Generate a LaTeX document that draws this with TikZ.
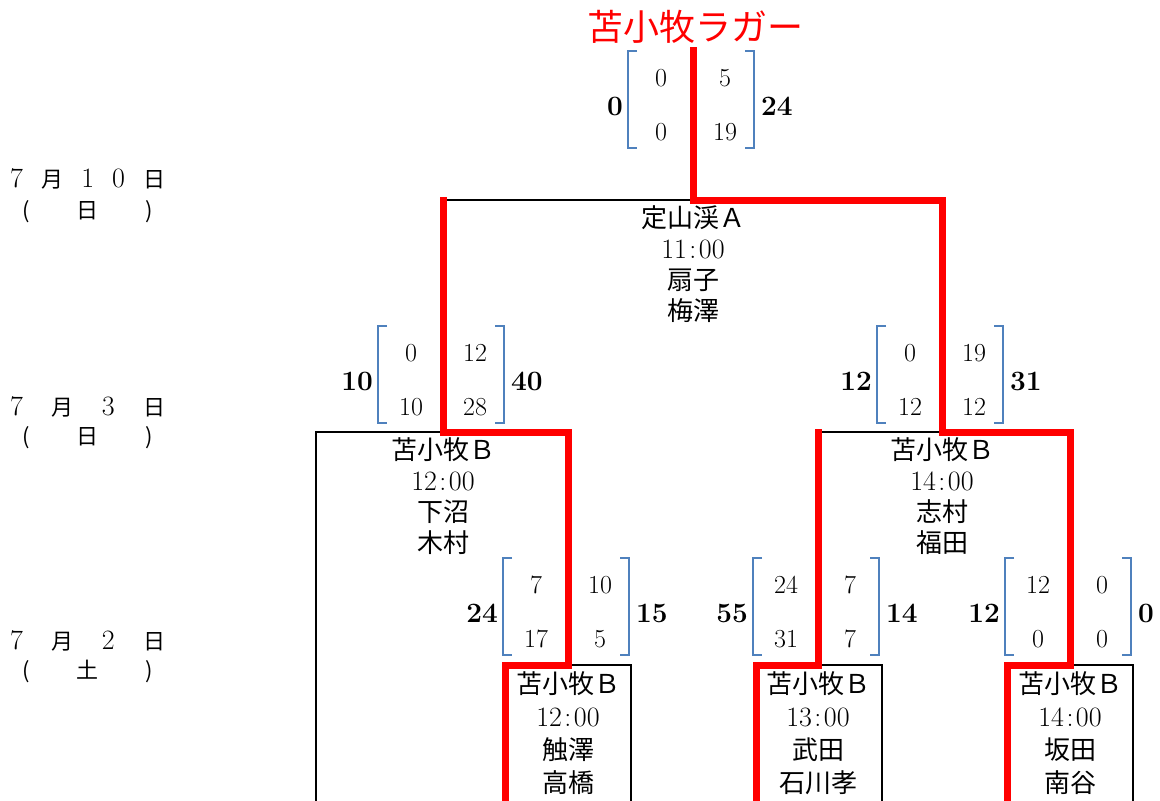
\documentclass[tikz,border=0pt]{standalone}
\usepackage{fontspec}
\newfontfamily\jp{Noto Sans CJK JP}
\usepackage{tikz}
\definecolor{bracket edge}{RGB}{79,129,189}
\colorlet{win line}{red}
\tikzset{winner/.style={draw=win line, line width=7pt, line cap=rect},
    loser/.style={draw=black, line width=2pt},
    bracket/.style={draw=bracket edge, line width=2pt},
    score/.style={inner sep=0pt, font=\fontsize{26}{26}\selectfont},
    total/.style={inner sep=0pt, font=\fontsize{28}{28}\selectfont\bfseries},
    matchinfo/.style={anchor=north, align=center, inner sep=0pt, font=\jp\fontsize{26}{31}\selectfont},
    quarterinfo/.style={matchinfo, font=\jp\fontsize{26}{33}\selectfont},
    daylabel/.style={anchor=west, inner sep=0pt, font=\jp\fontsize{22}{22}\selectfont},
    headline/.style={inner sep=0pt, text=win line, font=\jp\fontsize{36}{36}\selectfont}}
\newcommand\lm[1]{{\rmfamily\fontsize{28}{31}\selectfont#1}}
\newcommand\kickoff[2]{\lm{#1\kern2.5pt:\kern2.5pt#2}}
% name, x, top, left total, left scores, right scores, right total
\newcommand\scorecard[9]{%
  \draw[bracket] (#2-56,#3) -- (#2-65,#3) -- (#2-65,#3+97) -- (#2-56,#3+97);
  \draw[bracket] (#2+52,#3) -- (#2+61,#3) -- (#2+61,#3+97) -- (#2+52,#3+97);
  \node[score] (#1-a1) at (#2-32,#3+27) {#5};
  \node[score] (#1-a2) at (#2-32,#3+81) {#6};
  \node[score] (#1-b1) at (#2+32,#3+27) {#7};
  \node[score] (#1-b2) at (#2+32,#3+81) {#8};
  \node[total, anchor=east] (#1-l) at (#2-70,#3+55) {#4};
  \node[total, anchor=west] (#1-r) at (#2+68,#3+55) {#9};
}

\begin{document}
\begin{tikzpicture}[x=1pt, y=-1pt]
    \useasboundingbox (0,0) rectangle (1160,801);

    \node[headline] (title) at (695,27) {苫小牧ラガー};

    \coordinate (top) at (693,50);
    \coordinate (F)  at (693,200);
    \coordinate (SL) at (443,432);
    \coordinate (SR) at (942,432);
    \coordinate (QL) at (568,665);
    \coordinate (QM) at (818,665);
    \coordinate (QR) at (1070,665);
    \coordinate (t1) at (316,801);
    \coordinate (t2) at (505,801);
    \coordinate (t3) at (631,801);
    \coordinate (t4) at (756,801);
    \coordinate (t5) at (882,801);
    \coordinate (t6) at (1007,801);
    \coordinate (t7) at (1133,801);

    \draw[loser] (F) -| (SL);
    \draw[loser] (SL) -| (t1);
    \draw[loser] (SR) -| (QM);
    \draw[loser] (QL) -| (t3);
    \draw[loser] (QM) -| (t5);
    \draw[loser] (QR) -| (t7);

    \draw[winner] (top) -- (F) -| (SR) -| (QR) -| (t6);
    \draw[winner] (SL |- F) -- (SL) -| (QL) -| (t2);
    \draw[winner] (QM |- SR) -- (QM) -| (t4);

    \scorecard{fin}{693}{51}{0}{0}{0}{5}{19}{24}
    \scorecard{semL}{443}{326}{10}{0}{10}{12}{28}{40}
    \scorecard{semR}{942}{326}{12}{0}{12}{19}{12}{31}
    \scorecard{qL}{568}{558}{24}{7}{17}{10}{5}{15}
    \scorecard{qM}{818}{558}{55}{24}{31}{7}{7}{14}
    \scorecard{qR}{1070}{558}{12}{12}{0}{0}{0}{0}

    \node[matchinfo] (finInfo) at ([yshift=-5pt]F) {定山渓Ａ\\\kickoff{11}{00}\\扇子\\梅澤};
    \node[matchinfo] (semLInfo) at ([yshift=-5pt]SL) {苫小牧Ｂ\\\kickoff{12}{00}\\下沼\\木村};
    \node[matchinfo] (semRInfo) at ([yshift=-5pt]SR) {苫小牧Ｂ\\\kickoff{14}{00}\\志村\\福田};
    \node[quarterinfo] (qLInfo) at ([yshift=-6pt]QL) {苫小牧Ｂ\\\kickoff{12}{00}\\触澤\\高橋};
    \node[quarterinfo] (qMInfo) at ([yshift=-6pt]QM) {苫小牧Ｂ\\\kickoff{13}{00}\\武田\\石川孝};
    \node[quarterinfo] (qRInfo) at ([yshift=-6pt]QR) {苫小牧Ｂ\\\kickoff{14}{00}\\坂田\\南谷};

    \node[daylabel] (day1) at (10,179) {\hbox to155pt{\lm{7}\hfill 月\hfill\lm{1}\hfill\lm{0}\hfill 日}};
    \node[daylabel] (wday1) at (22,212) {\hbox to131pt{(\hfill 日\hfill)}};
    \node[daylabel] (day2) at (10,407) {\hbox to155pt{\lm{7}\hfill 月\hfill\lm{3}\hfill 日}};
    \node[daylabel] (wday2) at (22,438) {\hbox to131pt{(\hfill 日\hfill)}};
    \node[daylabel] (day3) at (10,641) {\hbox to155pt{\lm{7}\hfill 月\hfill\lm{2}\hfill 日}};
    \node[daylabel] (wday3) at (22,671) {\hbox to131pt{(\hfill 土\hfill)}};
\end{tikzpicture}
\end{document}
